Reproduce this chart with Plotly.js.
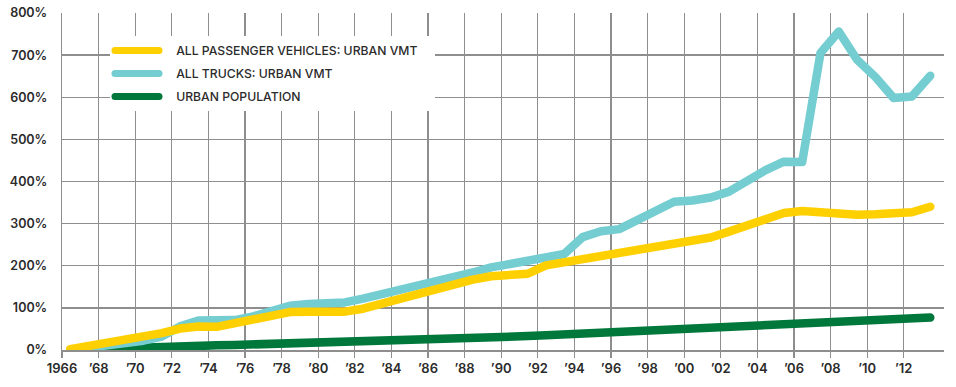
<!DOCTYPE html>
<html>
<head>
<meta charset="utf-8">
<script src="https://cdn.plot.ly/plotly-3.0.1.min.js"></script>
<style>
  html, body { margin: 0; padding: 0; background: #ffffff; }
  #chart { width: 956px; height: 387px; }
  .scatterlayer path.js-line { stroke-linecap: round; stroke-linejoin: round; }
  .legend path.js-line { stroke-linecap: round; stroke-width: 7px !important; }
</style>
</head>
<body>
<div id="chart"></div>
<script>
// ---- data (percent change since 1966) ----
const years = [1966,1967,1968,1969,1970,1971,1972,1973,1974,1975,1976,1977,1978,1979,1980,1981,1982,1983,1984,1985,1986,1987,1988,1989,1990,1991,1992,1993,1994,1995,1996,1997,1998,1999,2000,2001,2002,2003,2004,2005,2006,2007,2008,2009,2010,2011,2012,2013];

const passengerVMT = [2,9,16,22,28,40,51,56,55,63,73,82,90,91,91,91,98,110,119,130,142,157,167,175,179,181,201,208,216,224,232,240,248,255,262,267,281,297,313,325,330,327,321,321,322,324,327,340];

const truckVMT = [0,5,10,16,22,32,56,70,70,71,80,92,105,109,111,113,122,132,142,150,160,172,184,196,203,212,220,228,268,282,287,309,330,352,355,362,376,404,427,447,446,705,756,689,648,598,602,651];

const urbanPopulation = [0,2,4,6,7,8,9,10,11,12,13,15,16,18,19,20,21,22,23,24,25,26,28,29,31,33,35,37,39,41,43,45,48,50,52,54,56,58,60,62,64,66,68,70,72,74,76,77];

const seriesNames = ['ALL PASSENGER VEHICLES: URBAN VMT', 'ALL TRUCKS: URBAN VMT', 'URBAN POPULATION'];

const xTickVals = [1966,1968,1970,1972,1974,1976,1978,1980,1982,1984,1986,1988,1990,1992,1994,1996,1998,2000,2002,2004,2006,2008,2010,2012];
const xTickText = ['1966','\u201968','\u201970','\u201972','\u201974','\u201976','\u201978','\u201980','\u201982','\u201984','\u201986','\u201988','\u201990','\u201992','\u201994','\u201996','\u201998','\u201900','\u201902','\u201904','\u201906','\u201908','\u201910','\u201912'];
const yTickVals = [0,100,200,300,400,500,600,700,800];
const yTickText = ['0%','100%','200%','300%','400%','500%','600%','700%','800%'];

// values are plotted at mid-year
const xs = years.map(y => y + 0.45);

const colors = { passenger: '#FFD000', trucks: '#74CDD0', population: '#00773B' };
const FONT = 'Inter, "Noto Sans", sans-serif';
const gap = '\u2002\u2002';

const traces = [
  { x: xs, y: urbanPopulation, name: gap + seriesNames[2], legendrank: 3, legendgroup: 'c',
    type: 'scatter', mode: 'lines', line: { color: colors.population, width: 8.5 } },
  { x: xs, y: truckVMT, name: gap + seriesNames[1], legendrank: 2, legendgroup: 'b',
    type: 'scatter', mode: 'lines', line: { color: colors.trucks, width: 8.5 } },
  { x: xs, y: passengerVMT, name: gap + seriesNames[0] + gap, legendrank: 1, legendgroup: 'a',
    type: 'scatter', mode: 'lines', line: { color: colors.passenger, width: 8.5 } }
];

const gridColor = '#8e8e8e';

const layout = {
  width: 956, height: 387,
  margin: { l: 62, r: 12, t: 13, b: 37 },
  paper_bgcolor: '#ffffff', plot_bgcolor: '#ffffff',
  font: { family: FONT, color: '#2b2b2b', size: 12 },
  showlegend: true,
  hovermode: false,
  xaxis: {
    range: [1966, 2014.2],
    tickmode: 'array', tickvals: xTickVals, ticktext: xTickText,
    showgrid: true, gridcolor: gridColor, gridwidth: 1.3,
    ticks: 'outside', ticklen: 6, tickcolor: gridColor, tickwidth: 1.3,
    showline: true, linecolor: gridColor, linewidth: 1.5,
    zeroline: false,
    tickfont: { family: FONT, size: 13, color: '#2b2b2b', weight: 600 }
  },
  yaxis: {
    range: [0, 800],
    tickmode: 'array', tickvals: yTickVals, ticktext: yTickText,
    showgrid: true, gridcolor: gridColor, gridwidth: 1.3,
    showline: true, linecolor: gridColor, linewidth: 1.3,
    zeroline: false, ticks: '',
    ticklabelstandoff: 11,
    tickfont: { family: FONT, size: 12.5, color: '#2b2b2b', weight: 600 }
  },
  legend: {
    x: 0.0544, y: 0.932, xanchor: 'left', yanchor: 'top',
    bgcolor: '#ffffff', borderwidth: 0,
    traceorder: 'grouped', tracegroupgap: 4,
    itemwidth: 44,
    font: { family: FONT, size: 12.2, color: '#2b2b2b', weight: 500 }
  }
};

Plotly.newPlot('chart', traces, layout, { displayModeBar: false, staticPlot: true });
</script>
</body>
</html>
